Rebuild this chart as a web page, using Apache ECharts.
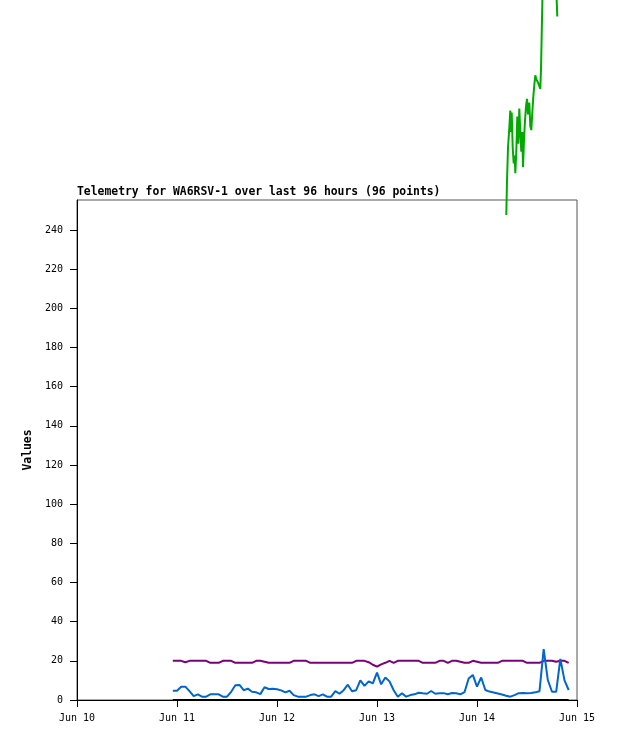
<!DOCTYPE html>
<html><head><meta charset="utf-8">
<script src="https://cdn.jsdelivr.net/npm/echarts@6/dist/echarts.min.js"></script>
<style>html,body{margin:0;padding:0;background:#fff}#c{width:618px;height:741px}</style>
</head><body><div id="c"></div>
<script>
const titleText = 'Telemetry for WA6RSV-1 over last 96 hours (96 points)';
const dayLabels = ['Jun 10','Jun 11','Jun 12','Jun 13','Jun 14','Jun 15'];
const yTicks = [0,20,40,60,80,100,120,140,160,180,200,220,240];
const startDay = 23/24; // first hourly sample (days after Jun 10 00:00)

const blueValues = [
 4.7,4.7,6.8,6.8,4.5,2.0,2.9,1.7,1.7,2.9,
 2.9,2.9,1.7,1.7,4.2,7.5,7.7,5.0,5.8,4.2,
 3.9,3.0,6.5,5.6,5.8,5.5,4.9,3.9,4.7,2.5,
 1.7,1.7,1.7,2.5,2.9,2.0,2.9,1.7,1.7,4.5,
 3.2,5.0,7.8,4.5,5.0,10.0,7.2,9.5,8.5,14.0,
 8.0,11.5,9.5,5.0,1.7,3.5,1.7,2.5,2.9,3.7,
 3.4,3.2,4.6,3.2,3.4,3.5,2.9,3.6,3.4,2.9,
 4.0,11.0,12.8,6.8,11.5,5.1,4.3,3.8,3.3,2.8,
 2.2,1.7,2.5,3.5,3.6,3.4,3.6,3.9,4.5,26.0,
 10.2,4.2,4.2,21.0,10.0,5.1
];
const purpleValues = [
 20,20,20,19.3,20,20,20,20,20,19,
 19,19,20,20,20,19,19,19,19,19,
 20,20,19.5,19,19,19,19,19,19,20,
 20,20,20,19,19,19,19,19,19,19,
 19,19,19,19,20,20,20,19.3,18,17,
 18.2,19,20,19,20,20,20,20,20,20,
 19,19,19,19,20,20,19,20,20,19.5,
 19,19,20,19.5,19,19,19,19,19,20,
 20,20,20,20,20,19,19,19,19,20,
 20,20,19.5,20,20,19
];
const zeroValues = [
 0,0,0,0,0,0,0,0,0,0, 0,0,0,0,0,0,0,0,0,0,
 0,0,0,0,0,0,0,0,0,0, 0,0,0,0,0,0,0,0,0,0,
 0,0,0,0,0,0,0,0,0,0, 0,0,0,0,0,0,0,0,0,0,
 0,0,0,0,0,0,0,0,0,0, 0,0,0,0,0,0,0,0,0,0,
 0,0,0,0,0,0,0,0,0,0, 0,0,0,0,0,0
];
const greenTimes = [
 4.293,4.300,4.310,4.323,4.333,4.340,4.347,4.357,4.367,4.377,
 4.383,4.393,4.403,4.413,4.423,4.433,4.443,4.453,4.460,4.470,
 4.480,4.490,4.500,4.510,4.523,4.533,4.543,4.553,4.563,4.573,
 4.583,4.593,4.603,4.613,4.623,4.633,4.640,4.647,4.657,4.710,
 4.760,4.787,4.803
];
const greenValues = [
 247.7,265,282,292,301,290,300,282,274,278,
 269,280,298,284,302,290,280,290,272,286,
 296,303,307,299,305,293,291,300,308,314,
 319,317,318,315,314,312,322,340,365,400,
 395,370,349
];

const hourly = vals => vals.map((v, i) => [startDay + i / 24, v]);
const mono = 'DejaVu Sans Mono';

const chart = echarts.init(document.getElementById('c'), null, {renderer: 'canvas'});
chart.setOption({
  animation: false,
  backgroundColor: '#ffffff',
  title: {
    text: titleText, left: 77, top: 187, padding: 0,
    textStyle: {fontFamily: mono, fontWeight: 'bold', fontSize: 11.4, color: '#000'}
  },
  grid: {left: 77, top: 200, width: 500, height: 500, show: true, borderColor: '#555', borderWidth: 1, backgroundColor: 'transparent'},
  xAxis: {
    type: 'value', min: 0, max: 5, interval: 1,
    axisLine: {show: true, onZero: false, lineStyle: {color: '#000', width: 1}},
    axisTick: {show: true, length: 7, inside: false, lineStyle: {color: '#000'}},
    axisLabel: {margin: 13, fontFamily: mono, fontSize: 10, color: '#000',
      formatter: v => dayLabels[Math.round(v)] || ''},
    splitLine: {show: false}
  },
  yAxis: {
    type: 'value', min: 0, max: 255.32, interval: 20,
    name: 'Values', nameLocation: 'middle', nameGap: 36, nameRotate: 90,
    nameTextStyle: {fontFamily: mono, fontWeight: 'bold', fontSize: 11.4, color: '#000'},
    axisLine: {show: true, lineStyle: {color: '#000', width: 1}},
    axisTick: {show: true, length: 7, inside: false, lineStyle: {color: '#000'}, customValues: yTicks},
    axisLabel: {margin: 14, fontFamily: mono, fontSize: 10, color: '#000', customValues: yTicks},
    splitLine: {show: false}
  },
  series: [
    {type: 'line', data: hourly(zeroValues), symbol: 'none', lineStyle: {color: '#000', width: 2}, silent: true},
    {type: 'line', data: hourly(purpleValues), symbol: 'none', lineStyle: {color: '#7a007a', width: 2}},
    {type: 'line', data: hourly(blueValues), symbol: 'none', lineStyle: {color: '#0066cc', width: 2}},
    {type: 'line', data: greenTimes.map((t, i) => [t, greenValues[i]]), symbol: 'none', clip: false,
      lineStyle: {color: '#00aa00', width: 2}}
  ]
});
</script></body></html>
